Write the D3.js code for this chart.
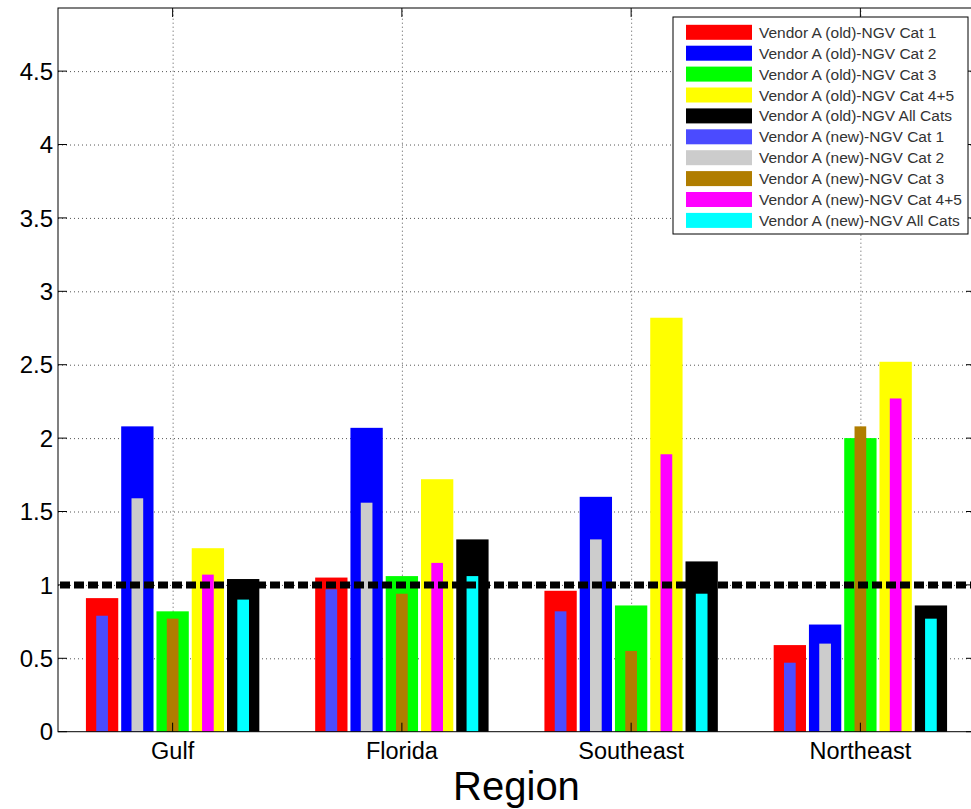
<!DOCTYPE html>
<meta charset="utf-8">
<style>
    body { margin: 0; background: #fff; }
    text { font-family: "Liberation Sans", Arial, sans-serif; }
    .grid line { stroke: #555; stroke-width: 1; stroke-dasharray: 1,3; }
    .grid path { display: none; }
</style>

<svg width="971" height="809"></svg>

<script src="https://cdn.jsdelivr.net/npm/d3@7"></script>
<script>

    // DATA

    var regions = ["Gulf", "Florida", "Southeast", "Northeast"];

    var seriesNames = [
        "Vendor A (old)-NGV Cat 1",
        "Vendor A (old)-NGV Cat 2",
        "Vendor A (old)-NGV Cat 3",
        "Vendor A (old)-NGV Cat 4+5",
        "Vendor A (old)-NGV All Cats",
        "Vendor A (new)-NGV Cat 1",
        "Vendor A (new)-NGV Cat 2",
        "Vendor A (new)-NGV Cat 3",
        "Vendor A (new)-NGV Cat 4+5",
        "Vendor A (new)-NGV All Cats"
    ];

    var seriesColors = ["#ff0000", "#0000ff", "#00ff00", "#ffff00", "#000000",
                        "#4b4bff", "#cccccc", "#b07d00", "#ff00ff", "#00ffff"];

    // old vendor, one array per category, values per region
    var oldCat1    = [0.91, 1.05, 0.96, 0.59];
    var oldCat2    = [2.08, 2.07, 1.60, 0.73];
    var oldCat3    = [0.82, 1.06, 0.86, 2.00];
    var oldCat45   = [1.25, 1.72, 2.82, 2.52];
    var oldAllCats = [1.04, 1.31, 1.16, 0.86];

    // new vendor
    var newCat1    = [0.79, 0.97, 0.82, 0.47];
    var newCat2    = [1.59, 1.56, 1.31, 0.60];
    var newCat3    = [0.77, 0.94, 0.55, 2.08];
    var newCat45   = [1.07, 1.15, 1.89, 2.27];
    var newAllCats = [0.90, 1.06, 0.94, 0.77];

    var yTicks = [0, 0.5, 1, 1.5, 2, 2.5, 3, 3.5, 4, 4.5];
    var refValue = 1;

    var oldSeries = [oldCat1, oldCat2, oldCat3, oldCat45, oldAllCats];
    var newSeries = [newCat1, newCat2, newCat3, newCat45, newAllCats];

    // SETUP

    var svg = d3.select("svg"),
        box = { left: 58, right: 975, top: 8, bottom: 731.7 };

    var x = d3.scaleLinear().domain([0.5, 4.5]).range([box.left, box.right]),
        y = d3.scaleLinear().domain([0, 4.93]).range([box.bottom, box.top]),
        offset = d3.scalePoint().domain(d3.range(5)).range([-0.3077, 0.3077]);

    var wideBar = 0.141, thinBar = 0.051;

    // GRID

    svg.append("g")
        .attr("class", "grid")
        .attr("transform", "translate(" + box.left + ",0)")
        .call(d3.axisLeft(y).tickValues(yTicks.slice(1)).tickSize(-(box.right - box.left)).tickFormat(""));

    svg.append("g")
        .attr("class", "grid")
        .attr("transform", "translate(0," + box.bottom + ")")
        .call(d3.axisBottom(x).tickValues([1, 2, 3, 4]).tickSize(-(box.bottom - box.top)).tickFormat(""));

    // BARS

    function drawBars(series, width, cls, colorStart) {
        series.forEach(function (vals, i) {
            svg.append("g")
                .attr("class", cls)
                .selectAll("rect")
                .data(vals)
                .enter().append("rect")
                .attr("x", function (d, j) { return x(j + 1 + offset(i) - width / 2); })
                .attr("width", x(1 + width) - x(1))
                .attr("y", function (d) { return y(d); })
                .attr("height", function (d) { return y(0) - y(d); })
                .attr("fill", seriesColors[colorStart + i]);
        });
    }

    drawBars(oldSeries, wideBar, "old", 0);
    drawBars(newSeries, thinBar, "new", 5);

    // REFERENCE LINE

    svg.append("line")
        .attr("x1", box.left + 2).attr("x2", box.right)
        .attr("y1", y(refValue)).attr("y2", y(refValue))
        .attr("stroke", "#000")
        .attr("stroke-width", 7)
        .attr("stroke-dasharray", "10,4");

    // AXES

    svg.append("rect")
        .attr("x", box.left).attr("y", box.top)
        .attr("width", box.right - box.left).attr("height", box.bottom - box.top)
        .attr("fill", "none").attr("stroke", "#000").attr("stroke-width", 1);

    var ticks = svg.append("g");
    yTicks.forEach(function (t) {
        ticks.append("line").attr("x1", box.left).attr("x2", box.left + 9)
            .attr("y1", y(t)).attr("y2", y(t)).attr("stroke", "#000");
        ticks.append("line").attr("x1", box.right - 9).attr("x2", box.right)
            .attr("y1", y(t)).attr("y2", y(t)).attr("stroke", "#000");
        ticks.append("text")
            .attr("x", box.left - 5).attr("y", y(t))
            .attr("dy", "0.36em")
            .attr("text-anchor", "end")
            .attr("font-size", 24)
            .text(String(t));
    });

    regions.forEach(function (r, j) {
        ticks.append("line").attr("x1", x(j + 1)).attr("x2", x(j + 1))
            .attr("y1", box.bottom).attr("y2", box.bottom - 9).attr("stroke", "#000");
        ticks.append("line").attr("x1", x(j + 1)).attr("x2", x(j + 1))
            .attr("y1", box.top).attr("y2", box.top + 9).attr("stroke", "#000");
        ticks.append("text")
            .attr("x", x(j + 1)).attr("y", 759)
            .attr("text-anchor", "middle")
            .attr("font-size", 23.5)
            .text(r);
    });

    svg.append("text")
        .attr("x", (box.left + box.right) / 2).attr("y", 800)
        .attr("text-anchor", "middle")
        .attr("font-size", 40)
        .text("Region");

    // LEGEND

    var legend = svg.append("g").attr("transform", "translate(673,17)");

    legend.append("rect")
        .attr("width", 295).attr("height", 217)
        .attr("fill", "#fff").attr("stroke", "#000");

    var rows = legend.selectAll(".row")
        .data(seriesNames)
        .enter().append("g")
        .attr("class", "row")
        .attr("transform", function (d, i) { return "translate(0," + (15.3 + i * 20.9) + ")"; });

    rows.append("rect")
        .attr("x", 13).attr("y", -7.5)
        .attr("width", 66).attr("height", 15)
        .attr("fill", function (d, i) { return seriesColors[i]; });

    rows.append("text")
        .attr("x", 86).attr("dy", "0.36em")
        .attr("font-size", 15.5)
        .attr("fill", "#333")
        .text(function (d) { return d; });

</script>
